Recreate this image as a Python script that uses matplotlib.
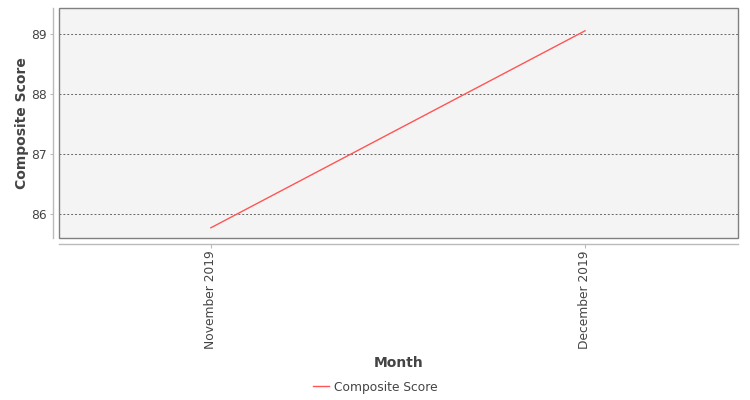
import matplotlib
matplotlib.use('Agg')
import matplotlib.pyplot as plt
from matplotlib.patches import Rectangle

months = ['November 2019', 'December 2019']
composite_score = [85.77, 89.05]

TEXT = '#444444'
LINE_RED = '#ff5555'

plt.rcParams['font.family'] = ['DejaVu Sans']

fig = plt.figure(figsize=(7.5, 4), dpi=100)
ax = fig.add_axes([59 / 750, 1 - 238 / 400, (738 - 59) / 750, (238 - 8) / 400])
ax.set_facecolor('#f4f4f4')

x = list(range(len(months)))
ax.plot(x, composite_score, color=LINE_RED, linewidth=1, label='Composite Score')

ax.set_xlim(-0.406, 1.409)
ax.set_ylim(85.6, 89.43)
ax.set_yticks([86, 87, 88, 89])
ax.set_xticks(x)
ax.set_xticklabels(months)

ax.grid(axis='y', color='#666666', linestyle=(0, (2, 2)), linewidth=0.7)
ax.grid(axis='x', visible=False)

# plot outline, axis lines are offset outward like the original
ax.add_patch(Rectangle((0, 0), 1, 1, transform=ax.transAxes, fill=False,
                       edgecolor='#808080', linewidth=1, clip_on=False, zorder=5))
for side in ['top', 'right']:
    ax.spines[side].set_visible(False)
for side in ['left', 'bottom']:
    ax.spines[side].set_position(('outward', 4))
    ax.spines[side].set_color('#bbbbbb')
    ax.spines[side].set_linewidth(1)

ax.tick_params(axis='x', colors='#bbbbbb', labelcolor=TEXT, labelsize=8.8,
               length=3, pad=2, labelrotation=90)
ax.tick_params(axis='y', colors='#bbbbbb', labelcolor=TEXT, labelsize=8.8, length=2, pad=3)
for lbl in ax.get_xticklabels():
    lbl.set_va('top')
    lbl.set_ha('center')

ax.set_ylabel('Composite Score', fontsize=10, fontweight='bold', color=TEXT, labelpad=1.5)
ax.set_xlabel('Month', fontsize=10, fontweight='bold', color=TEXT, labelpad=5)

fig.legend(loc='center', bbox_to_anchor=(0.5, 1 - 387 / 400), frameon=False,
           fontsize=8.8, labelcolor=TEXT, handlelength=1.3, handletextpad=0.4)

fig.savefig('out.png', dpi=100, facecolor='white')
